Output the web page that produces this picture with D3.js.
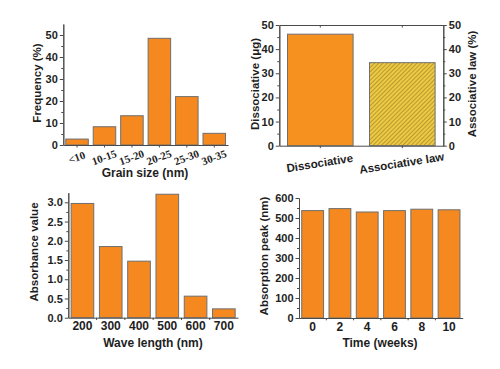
<!DOCTYPE html>
<html>
<head>
<meta charset="utf-8">
<script src="https://cdn.jsdelivr.net/npm/d3@7"></script>
<style>
body { margin: 0; background: #fff; }
svg text { font-family: "Liberation Sans", Arial, sans-serif; font-weight: bold; fill: #1e1e1e; }
</style>
</head>
<body>
<script>
// top left : grain size distribution
var grainSizes = ["<10", "10-15", "15-20", "20-25", "25-30", "30-35"];
var grainFreq = [2.7, 8.3, 13.3, 48.5, 22.0, 5.3];
var grainTicks = [0, 10, 20, 30, 40, 50];

// top right : dissociative / associative law
var bindCats = ["Dissociative", "Associative law"];
var bindValues = [46.2, 34.4];
var bindTicks = [0, 10, 20, 30, 40, 50];

// bottom left : absorbance vs wave length
var waveLengths = ["200", "300", "400", "500", "600", "700"];
var absorbance = [2.97, 1.85, 1.47, 3.21, 0.56, 0.23];
var absTicks = [0, 0.5, 1.0, 1.5, 2.0, 2.5, 3.0];

// bottom right : absorption peak over time
var weeks = ["0", "2", "4", "6", "8", "10"];
var peaks = [537, 547, 530, 537, 544, 541];
var peakTicks = [0, 100, 200, 300, 400, 500, 600];

var orange = "#f5891f", barStroke = "#6f6f6f", axisCol = "#4a4a4a";

var svg = d3.select("body").append("svg")
    .attr("width", 500)
    .attr("height", 369);

var defs = svg.append("defs");
var hatch = defs.append("pattern")
    .attr("id", "hatch")
    .attr("patternUnits", "userSpaceOnUse")
    .attr("width", 3)
    .attr("height", 3)
    .attr("patternTransform", "rotate(45)");
hatch.append("rect").attr("width", 3).attr("height", 3).attr("fill", "#ebca45");
hatch.append("line").attr("x1", 0.5).attr("y1", 0).attr("x2", 0.5).attr("y2", 3)
    .attr("stroke", "#b8922a").attr("stroke-width", 0.9);

function styleAxis(g) {
  g.selectAll("path, line").attr("stroke", axisCol).attr("stroke-width", 1);
  g.selectAll("text").attr("fill", "#1e1e1e");
}

// draws one y axis with major + minor ticks
function yAxis(x0, y, ticks, minor, fmt, right) {
  var mk = right ? d3.axisRight : d3.axisLeft;
  var gm = svg.append("g").attr("transform", "translate(" + x0 + ",0)")
      .call(mk(y).tickValues(minor).tickSize(2).tickFormat("").tickSizeOuter(0));
  styleAxis(gm);
  var g = svg.append("g").attr("transform", "translate(" + x0 + ",0)")
      .call(mk(y).tickValues(ticks).tickSize(3.5).tickPadding(2).tickFormat(fmt).tickSizeOuter(0));
  g.selectAll("text").style("font-size", "11px");
  styleAxis(g);
  return g;
}

function bars(x, y, cats, vals, fill) {
  svg.append("g").selectAll("rect")
    .data(vals)
    .enter()
    .append("rect")
    .attr("x", function(d, i) { return x(cats[i]); })
    .attr("y", function(d) { return y(d); })
    .attr("width", x.bandwidth())
    .attr("height", function(d) { return y(0) - y(d); })
    .attr("fill", fill)
    .attr("stroke", barStroke)
    .attr("stroke-width", 1);
}

function yLabel(x, yc, txt) {
  svg.append("text")
    .attr("transform", "translate(" + x + "," + yc + ") rotate(-90)")
    .attr("text-anchor", "middle")
    .attr("dominant-baseline", "central")
    .style("font-size", "11.5px")
    .text(txt);
}

function xLabel(xc, y, txt) {
  svg.append("text")
    .attr("x", xc).attr("y", y)
    .attr("text-anchor", "middle")
    .style("font-size", "12px")
    .text(txt);
}

function minorOf(ticks, step) {
  var out = [];
  for (var i = 0; i < ticks.length - 1; i++) out.push(ticks[i] + step);
  return out;
}

// ---------- panel 1 ----------
var x1 = d3.scaleBand().domain(grainSizes).range([63.3, 228]).paddingInner(0.18).paddingOuter(0.09);
var y1 = d3.scaleLinear().domain([0, 55]).range([145, 24]);
bars(x1, y1, grainSizes, grainFreq, orange);
yAxis(63.3, y1, grainTicks, minorOf(grainTicks, 5), d3.format("d"), false);
var xa1 = svg.append("g").attr("transform", "translate(0,145)")
    .call(d3.axisBottom(x1).tickSize(2.5).tickSizeOuter(0).tickFormat(""));
styleAxis(xa1);
svg.append("g").selectAll("text")
  .data(grainSizes)
  .enter()
  .append("text")
  .attr("transform", function(d) { return "translate(" + (x1(d) + x1.bandwidth() / 2 + 1) + ",161) rotate(-20)"; })
  .attr("text-anchor", "middle")
  .style("font-family", "'Liberation Serif', 'Times New Roman', serif")
  .style("font-size", "11px")
  .text(function(d) { return d; });
yLabel(37, 83, "Frequency (%)");
xLabel(145, 177, "Grain size (nm)");

// ---------- panel 2 ----------
var x2 = d3.scaleBand().domain(bindCats).range([279.3, 443.3]).paddingInner(0.2).paddingOuter(0.1);
var y2 = d3.scaleLinear().domain([0, 50]).range([145.7, 25]);
svg.append("g").selectAll("rect")
  .data(bindValues)
  .enter()
  .append("rect")
  .attr("x", function(d, i) { return x2(bindCats[i]); })
  .attr("y", function(d) { return y2(d); })
  .attr("width", x2.bandwidth())
  .attr("height", function(d) { return y2(0) - y2(d); })
  .attr("fill", function(d, i) { return i == 0 ? "#f6901f" : "url(#hatch)"; })
  .attr("stroke", barStroke)
  .attr("stroke-width", 1);
yAxis(279.3, y2, bindTicks, minorOf(bindTicks, 5), d3.format("d"), false);
yAxis(443.3, y2, bindTicks, minorOf(bindTicks, 5), d3.format("d"), true);
var xa2 = svg.append("g").attr("transform", "translate(0,145.7)")
    .call(d3.axisBottom(x2).tickSize(2.5).tickSizeOuter(0).tickFormat(""));
styleAxis(xa2);
var xt2 = svg.append("g").attr("transform", "translate(0,25)")
    .call(d3.axisBottom(x2).tickSize(2.5).tickSizeOuter(0).tickFormat(""));
styleAxis(xt2);
svg.append("g").selectAll("text")
  .data(bindCats)
  .enter()
  .append("text")
  .attr("transform", function(d) { return "translate(" + (x2(d) + x2.bandwidth() / 2) + ",167) rotate(-9)"; })
  .attr("text-anchor", "middle")
  .style("font-size", "11.5px")
  .text(function(d) { return d; });
yLabel(255, 84, "Dissociative (\u03bcg)");
yLabel(472, 84, "Associative law (%)");

// ---------- panel 3 ----------
var x3 = d3.scaleBand().domain(waveLengths).range([68.3, 238]).paddingInner(0.2).paddingOuter(0.1);
var y3 = d3.scaleLinear().domain([0, 3.25]).range([317.7, 192.7]);
bars(x3, y3, waveLengths, absorbance, orange);
yAxis(68.3, y3, absTicks, minorOf(absTicks, 0.25), d3.format(".1f"), false);
var xa3 = svg.append("g").attr("transform", "translate(0,317.7)")
    .call(d3.axisBottom(x3).tickSize(0).tickPadding(4).tickSizeOuter(0));
xa3.selectAll("text").style("font-size", "12px");
styleAxis(xa3);
// little ticks between the bars
svg.append("g").selectAll("line")
  .data(waveLengths.slice(1))
  .enter()
  .append("line")
  .attr("x1", function(d) { return x3(d) - x3.step() * x3.paddingInner() / 2; })
  .attr("x2", function(d) { return x3(d) - x3.step() * x3.paddingInner() / 2; })
  .attr("y1", 317.7).attr("y2", 320)
  .attr("stroke", axisCol);
xLabel(153, 347, "Wave length (nm)");
yLabel(34, 252, "Absorbance value");

// ---------- panel 4 ----------
var x4 = d3.scaleBand().domain(weeks).range([299, 462.7]).paddingInner(0.2).paddingOuter(0.1);
var y4 = d3.scaleLinear().domain([0, 600]).range([318, 198]);
bars(x4, y4, weeks, peaks, orange);
yAxis(299, y4, peakTicks, minorOf(peakTicks, 50), d3.format("d"), false);
var xa4 = svg.append("g").attr("transform", "translate(0,318)")
    .call(d3.axisBottom(x4).tickSize(0).tickPadding(4).tickSizeOuter(0));
xa4.selectAll("text").style("font-size", "12px");
styleAxis(xa4);
svg.append("g").selectAll("line")
  .data(weeks.slice(1))
  .enter()
  .append("line")
  .attr("x1", function(d) { return x4(d) - x4.step() * x4.paddingInner() / 2; })
  .attr("x2", function(d) { return x4(d) - x4.step() * x4.paddingInner() / 2; })
  .attr("y1", 318).attr("y2", 320.3)
  .attr("stroke", axisCol);
xLabel(380, 347, "Time (weeks)");
yLabel(264, 256, "Absorption peak (nm)");
</script>
</body>
</html>
